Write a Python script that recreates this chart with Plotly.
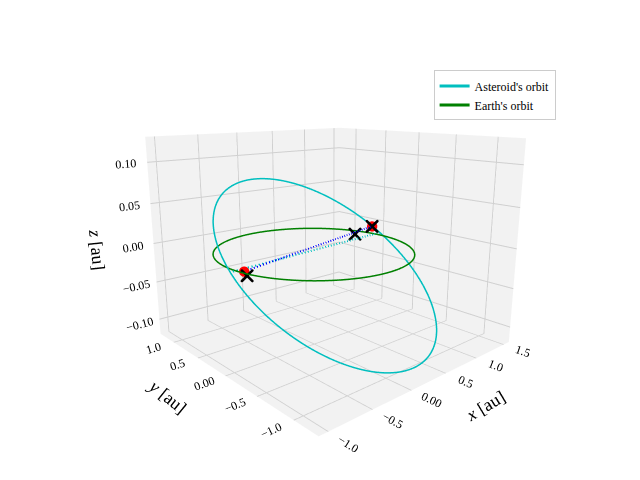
import numpy as np
import plotly.graph_objects as go

# orbital elements
ast_a = 1.1
ast_e = 0.15
ast_inc = 4.5      # deg
ast_node = 5.0     # deg, longitude of ascending node
ast_peri = 95.0    # deg, argument of perihelion
earth_r = 1.0

# marked positions
ast_pos_x = [-0.95, 0.98]
ast_pos_y = [-0.15, 0.12]
ast_pos_z = [0.0, 0.01]
earth_pos_x = [-0.94, 0.82, 0.98]
earth_pos_y = [-0.18, 0.23, 0.12]
earth_pos_z = [-0.004, 0.0, 0.01]

nu = np.linspace(0, 2 * np.pi, 400)
i, O, w = np.radians([ast_inc, ast_node, ast_peri])
p = ast_a * (1 - ast_e ** 2)


def orbit(u):
    r = p / (1 + ast_e * np.cos(u - w))
    return (r * (np.cos(O) * np.cos(u) - np.sin(O) * np.sin(u) * np.cos(i)),
            r * (np.sin(O) * np.cos(u) + np.cos(O) * np.sin(u) * np.cos(i)),
            r * np.sin(u) * np.sin(i))


ax_, ay_, az_ = orbit(nu)
node_x, node_y, node_z = orbit(np.array([0.0, np.pi]))

th = np.linspace(0, 2 * np.pi, 400)
ex = earth_r * np.cos(th)
ey = earth_r * np.sin(th)

font = dict(family='Liberation Serif', size=12, color='black')
data = [
    go.Scatter3d(x=ax_, y=ay_, z=az_, mode='lines', line=dict(color='#00bfbf', width=3),
                 name="Asteroid's orbit"),
    go.Scatter3d(x=ex, y=ey, z=0 * ex, mode='lines', line=dict(color='green', width=3),
                 name="Earth's orbit"),
    go.Scatter3d(x=node_x, y=node_y, z=node_z, mode='lines',
                 line=dict(color='#00bfbf', width=4, dash='dash'), showlegend=False),
    go.Scatter3d(x=ast_pos_x, y=ast_pos_y, z=ast_pos_z, mode='lines',
                 line=dict(color='blue', width=4, dash='dash'), showlegend=False),
    go.Scatter3d(x=ast_pos_x, y=ast_pos_y, z=ast_pos_z, mode='markers',
                 marker=dict(color='red', size=6), showlegend=False),
    go.Scatter3d(x=earth_pos_x, y=earth_pos_y, z=earth_pos_z, mode='markers',
                 marker=dict(color='black', size=3, symbol='x'), showlegend=False),
]


def axis(title, rng, ticks):
    return dict(title=dict(text=title, font=dict(family='Liberation Serif', size=18)),
                range=rng, tickvals=ticks,
                ticktext=[('%.2f' % t if abs(t) < 0.2 else '%.1f' % t).replace('-', '−') for t in ticks],
                backgroundcolor='#f2f2f2', showbackground=True, gridcolor='#d0d0d0',
                zeroline=False, showspikes=False, tickfont=font)


az, el = np.radians(-132), np.radians(14)
d = 2.25
layout = dict(
    width=640, height=480, paper_bgcolor='white', font=font,
    margin=dict(l=0, r=0, t=0, b=0),
    legend=dict(x=0.665, y=0.87, bordercolor='#cccccc', borderwidth=1, font=font),
    scene=dict(
        xaxis=axis('<i>x</i> [au]', [-1.1, 1.6], [-1.0, -0.5, 0.0, 0.5, 1.0, 1.5]),
        yaxis=axis('<i>y</i> [au]', [-1.3, 1.3], [-1.0, -0.5, 0.0, 0.5, 1.0]),
        zaxis=axis('<i>z</i> [au]', [-0.12, 0.13], [-0.10, -0.05, 0.0, 0.05, 0.10]),
        aspectmode='manual', aspectratio=dict(x=1, y=1, z=0.8),
        camera=dict(eye=dict(x=d * np.cos(el) * np.cos(az), y=d * np.cos(el) * np.sin(az), z=d * np.sin(el)),
                    center=dict(x=-0.02, y=0, z=-0.02),
                    projection=dict(type='perspective')),
    ),
)

fig = go.Figure(data=data, layout=layout)
fig.write_html('out.html')
